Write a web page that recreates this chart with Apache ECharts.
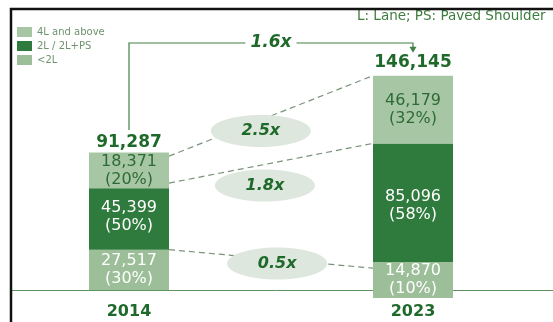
<!DOCTYPE html>
<html>
<head>
<meta charset="utf-8">
<script src="https://cdn.jsdelivr.net/npm/echarts@6/dist/echarts.min.js"></script>
<style>html,body{margin:0;padding:0;background:#fff}#c{width:553px;height:322px}</style>
</head>
<body>
<div id="c"></div>
<script>
// ---- data ----
const categories = ['2014', '2023'];
const below2L = [27517, 14870];
const twoLane = [45399, 85096];
const fourLane = [18371, 46179];
const seriesNames = ['<2L', '2L / 2L+PS', '4L and above'];
const growthLabels = ['2.5x', '1.8x', '0.5x']; // 4L, 2L, <2L
const totalGrowthLabel = '1.6x';
const noteText = 'L: Lane; PS: Paved Shoulder';

// ---- derived ----
const totals = categories.map((c, i) => below2L[i] + twoLane[i] + fourLane[i]);
const fmt = v => v.toLocaleString('en-US');
const FONT = '"DejaVu Sans", sans-serif';
const C_LIGHT4 = '#a7c6a3';
const C_DARK = '#2f7a3d';
const C_LIGHT2 = '#9cbf99';
const C_TEXT = '#1f6a2b';
const BAR_W = 80;

const segLabel = (color) => ({
  show: true, position: 'inside', color: color,
  fontFamily: FONT, fontSize: 16, lineHeight: 18,
  formatter: p => fmt(p.value) + '\n(' + Math.round(p.value / totals[p.dataIndex] * 100) + '%)'
});

const chart = echarts.init(document.getElementById('c'));
chart.setOption({
  animation: false,
  grid: { left: -13, right: -2, top: 70, bottom: 32, outerBoundsMode: 'none', containLabel: false },
  legend: {
    data: [seriesNames[2], seriesNames[1], seriesNames[0]],
    orient: 'vertical', left: 12, top: 22, itemGap: 4,
    itemWidth: 15, itemHeight: 10, icon: 'rect',
    textStyle: { fontFamily: FONT, fontSize: 10, color: '#6f936f' },
    selectedMode: false
  },
  xAxis: {
    type: 'category', data: categories,
    axisTick: { show: false },
    axisLine: { lineStyle: { color: '#5f935f', width: 1 } },
    axisLabel: { fontFamily: FONT, fontSize: 16, fontWeight: 'bold', color: C_TEXT, margin: 14 }
  },
  yAxis: { type: 'value', max: 150000, show: false, splitLine: { show: false } },
  series: [
    {
      name: seriesNames[0], type: 'bar', stack: 't', barWidth: BAR_W,
      itemStyle: { color: C_LIGHT2 },
      label: segLabel('#ffffff'),
      data: below2L.map((v, i) => i === 1 ? {
        value: v,
        label: { backgroundColor: C_LIGHT2, width: BAR_W, height: 36, padding: 0, offset: [0, 1] }
      } : v)
    },
    {
      name: seriesNames[1], type: 'bar', stack: 't', barWidth: BAR_W,
      itemStyle: { color: C_DARK },
      label: segLabel('#ffffff'),
      data: twoLane
    },
    {
      name: seriesNames[2], type: 'bar', stack: 't', barWidth: BAR_W,
      itemStyle: { color: C_LIGHT4 },
      label: segLabel('#2d6b36'),
      data: fourLane.map((v, i) => i === 0 ? {
        value: v,
        label: { backgroundColor: C_LIGHT4, width: BAR_W, height: 36, padding: 0, offset: [0, 1] }
      } : v)
    },
    {
      name: 'total', type: 'scatter', symbolSize: 0, silent: true,
      itemStyle: { opacity: 1 },
      label: {
        show: true, position: 'top', distance: 5,
        fontFamily: FONT, fontSize: 17, fontWeight: 'bold', color: C_TEXT,
        formatter: p => fmt(p.value)
      },
      data: totals
    }
  ]
});

// ---- annotations computed from data through the axes ----
const px = (i, v) => chart.convertToPixel({ gridIndex: 0 }, [i, v]);
const half = BAR_W / 2;
const boundaries = [
  [totals[0], totals[1]],
  [below2L[0] + twoLane[0], below2L[1] + twoLane[1]],
  [below2L[0], below2L[1]]
];
const placement = [[0.45, 11], [0.47, 21], [0.53, 4]];
const g = [];
boundaries.forEach((b, k) => {
  const a = px(0, b[0]), c = px(1, b[1]);
  const x1 = a[0] + half, y1 = a[1], x2 = c[0] - half, y2 = c[1];
  g.push({ type: 'line', z: 1, shape: { x1, y1, x2, y2 },
    style: { stroke: '#7a927a', lineWidth: 1.2, lineDash: [6, 4] } });
  const f = placement[k][0];
  const cx = x1 + (x2 - x1) * f, cy = y1 + (y2 - y1) * f + placement[k][1];
  g.push({ type: 'ellipse', z: 2, shape: { cx, cy, rx: 50, ry: 16 }, style: { fill: '#dee7dd' } });
  g.push({ type: 'text', z: 3, x: cx, y: cy, style: {
    text: growthLabels[k], fill: C_TEXT, fontFamily: FONT, fontSize: 16,
    fontWeight: 'bold', fontStyle: 'italic', align: 'center', verticalAlign: 'middle' } });
});
// bracket arrow
const t0 = px(0, totals[0]), t1 = px(1, totals[1]);
const yb = 43;
g.push({ type: 'polyline', z: 1, shape: { points: [[t0[0], t0[1] - 26], [t0[0], yb], [t1[0], yb], [t1[0], t1[1] - 27]] },
  style: { stroke: '#3f8045', lineWidth: 1.2, fill: null } });
g.push({ type: 'polygon', z: 1, shape: { points: [[t1[0] - 3.5, t1[1] - 29], [t1[0] + 3.5, t1[1] - 29], [t1[0], t1[1] - 23]] },
  style: { fill: '#3f8045' } });
g.push({ type: 'text', z: 3, x: (t0[0] + t1[0]) / 2, y: yb, style: {
  text: totalGrowthLabel, fill: C_TEXT, fontFamily: FONT, fontSize: 17, fontWeight: 'bold', fontStyle: 'italic',
  align: 'center', verticalAlign: 'middle', backgroundColor: '#ffffff', padding: [0, 5] } });
// note
g.push({ type: 'text', z: 3, x: 357, y: 16, style: {
  text: noteText, fill: '#3d7d3f', fontFamily: FONT, fontSize: 13.5, align: 'left', verticalAlign: 'middle' } });
// white margin outside the frame
g.push({ type: 'rect', z: 4, shape: { x: 0, y: 0, width: 10, height: 322 }, style: { fill: '#ffffff' } });
// frame
g.push({ type: 'polyline', z: 5, shape: { points: [[11, 322], [11, 9], [553, 9]] },
  style: { stroke: '#111111', lineWidth: 2.5, fill: null } });
chart.setOption({ graphic: g });
</script>
</body>
</html>
